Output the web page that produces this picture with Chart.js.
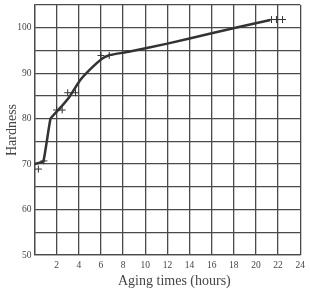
<!DOCTYPE html>
<html>
<head>
<meta charset="utf-8">
<script src="https://cdn.jsdelivr.net/npm/chart.js@4/dist/chart.umd.min.js"></script>
<style>
  body { margin: 0; background: #fff; }
</style>
</head>
<body>
<canvas id="myChart" width="310" height="290"></canvas>
<script>
// curve (hours, hardness)
const curveHours = [0, 0.8, 1.45, 2.3, 3.1, 4.1, 5, 6.1, 6.8, 8.5, 12, 16, 21.3];
const curveHardness = [70, 70.6, 80, 82.3, 84.6, 88.4, 90.8, 93.2, 94, 94.7, 96.5, 98.8, 101.7];

// measured points (+ marks)
const markHours = [0.35, 0.85, 2.0, 2.5, 3.0, 3.7, 6.0, 6.75, 21.4, 21.85, 22.4];
const markHardness = [68.9, 70.7, 81.9, 81.9, 85.7, 85.7, 93.9, 93.9, 101.8, 101.8, 101.8];

const xTicks = [2, 4, 6, 8, 10, 12, 14, 16, 18, 20, 22, 24];
const yTicks = [50, 60, 70, 80, 90, 100];

const ink = '#333';
const gridInk = '#4a4a4a';
const serif = '"Liberation Serif", "DejaVu Serif", serif';

// x title sits a bit right of centre in the original, so draw it by hand
const xTitle = {
  id: 'xTitle',
  afterDraw(chart) {
    const { ctx, chartArea } = chart;
    ctx.save();
    ctx.font = '14px ' + serif;
    ctx.fillStyle = '#444';
    ctx.textAlign = 'center';
    ctx.textBaseline = 'middle';
    ctx.fillText('Aging times (hours)', (chartArea.left + chartArea.right) / 2 + 7, 281);
    ctx.restore();
  }
};

document.addEventListener('DOMContentLoaded', () => {
  const ctx = document.getElementById('myChart').getContext('2d');
  new Chart(ctx, {
    type: 'scatter',
    data: {
      datasets: [{
        label: 'curve',
        data: curveHours.map((h, i) => ({ x: h, y: curveHardness[i] })),
        showLine: true,
        borderColor: ink,
        borderWidth: 2.5,
        pointRadius: 0,
        tension: 0.1,
        fill: false
      }, {
        label: 'measured',
        data: markHours.map((h, i) => ({ x: h, y: markHardness[i] })),
        showLine: false,
        pointStyle: 'cross',
        pointRadius: 3.5,
        borderColor: ink,
        borderWidth: 1,
        backgroundColor: ink
      }]
    },
    plugins: [xTitle],
    options: {
      responsive: false,
      animation: false,
      layout: { padding: { left: 0, right: 7, top: 5, bottom: 0 } },
      plugins: { legend: { display: false }, tooltip: { enabled: false } },
      scales: {
        x: {
          type: 'linear',
          min: 0,
          max: 24,
          afterFit: (s) => { s.height = 35; },
          afterBuildTicks: (s) => { s.ticks = [0].concat(xTicks).map(v => ({ value: v })); },
          grid: { color: gridInk, lineWidth: 1.3, drawTicks: false },
          border: { color: gridInk, width: 1.3 },
          ticks: {
            padding: 5,
            maxRotation: 0,
            color: '#444',
            font: { family: serif, size: 9.5 },
            callback: (v) => (xTicks.includes(v) ? v : '')
          }
        },
        y: {
          min: 50,
          max: 105,
          afterFit: (s) => { s.width = 34.5; s.paddingTop = 0; s.paddingBottom = 0; },
          ticks: {
            stepSize: 5,
            padding: 3,
            color: '#444',
            font: { family: serif, size: 9.5 },
            callback: (v) => (yTicks.includes(v) ? v : '')
          },
          grid: { color: gridInk, lineWidth: 1.3, drawTicks: false },
          border: { color: gridInk, width: 1.3 },
          title: {
            display: true,
            text: 'Hardness',
            color: '#444',
            font: { family: serif, size: 14 },
            padding: { bottom: 0 }
          }
        }
      }
    }
  });
});
</script>
</body>
</html>
